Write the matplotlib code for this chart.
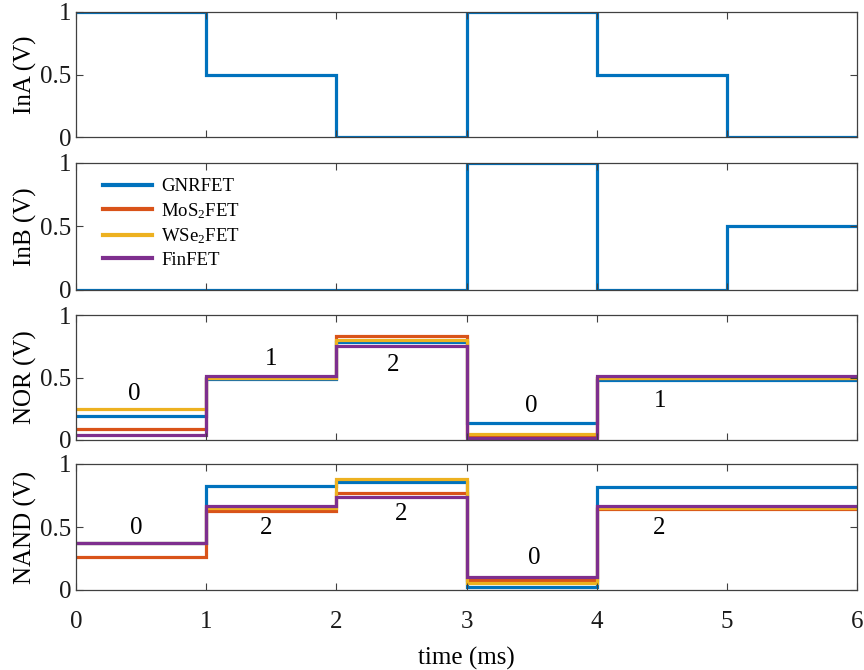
import matplotlib
matplotlib.use("Agg")
import matplotlib.pyplot as plt
import numpy as np

plt.rcParams['font.family'] = ['Liberation Serif', 'DejaVu Serif']
plt.rcParams['mathtext.fontset'] = 'custom'
plt.rcParams['mathtext.rm'] = 'Liberation Serif'
plt.rcParams['mathtext.it'] = 'Liberation Serif:italic'

# time segment edges (ms)
edges = [0, 1, 2, 3, 4, 5, 6]

# inputs (one level per 1 ms segment)
inA = [1, 0.5, 0, 1, 0.5, 0]
inB = [0, 0, 0, 1, 0, 0.5]

series = ["GNRFET", "MoS$_2$FET", "WSe$_2$FET", "FinFET"]
colors = ["#0072BD", "#D95319", "#EDB120", "#7E2F8E"]

nor = {
    "GNRFET":     [0.19, 0.49, 0.785, 0.14, 0.48, 0.48],
    "MoS$_2$FET": [0.086, 0.495, 0.83, 0.03, 0.50, 0.50],
    "WSe$_2$FET": [0.247, 0.50, 0.80, 0.046, 0.495, 0.495],
    "FinFET":     [0.038, 0.516, 0.75, 0.013, 0.516, 0.516],
}
nand = {
    "GNRFET":     [0.373, 0.825, 0.86, 0.026, 0.82, 0.82],
    "MoS$_2$FET": [0.262, 0.63, 0.77, 0.079, 0.64, 0.64],
    "WSe$_2$FET": [0.373, 0.65, 0.88, 0.058, 0.65, 0.65],
    "FinFET":     [0.373, 0.664, 0.74, 0.105, 0.67, 0.67],
}

nor_labels = ["0", "1", "2", "0", "1"]
nor_lx = [0.45, 1.50, 2.44, 3.50, 4.49]
nor_ly = [0.37, 0.645, 0.60, 0.27, 0.31]

nand_labels = ["0", "2", "2", "0", "2"]
nand_lx = [0.46, 1.46, 2.50, 3.52, 4.48]
nand_ly = [0.49, 0.49, 0.60, 0.25, 0.49]

W, H = 864, 670
fig = plt.figure(figsize=(W / 100, H / 100), dpi=100)

left = 76 / W
width = (857 - 76) / W
panels = [(12, 137), (163, 290), (315, 440), (464, 590)]
axes = []
for top, bot in panels:
    ax = fig.add_axes([left, 1 - bot / H, width, (bot - top) / H])
    axes.append(ax)

lw = 2.3
fs = 18
axcol = "#404040"

for ax in axes:
    ax.set_xlim(0, 6)
    ax.set_ylim(0, 1)
    ax.set_yticks([0, 0.5, 1])
    ax.set_yticklabels(["0", "0.5", "1"])
    ax.set_xticks(range(7))
    ax.tick_params(direction="in", top=True, right=True, labelsize=fs,
                   length=5, width=0.8, colors=axcol, labelcolor="#1a1a1a")
    for s in ax.spines.values():
        s.set_color(axcol)
        s.set_linewidth(0.9)
for ax in axes[:-1]:
    ax.tick_params(labelbottom=False)

# InA
axes[0].stairs(inA, edges, baseline=None, color=colors[0], lw=lw)
axes[0].set_ylabel("InA (V)", fontsize=fs, labelpad=2)

# InB with legend
for name, c in zip(series, colors):
    axes[1].plot([], [], color=c, lw=3, label=name)
axes[1].stairs(inB, edges, baseline=None, color=colors[0], lw=lw)
axes[1].set_ylabel("InB (V)", fontsize=fs, labelpad=2)
axes[1].legend(loc="upper left", bbox_to_anchor=(0.02, 0.97), frameon=False,
               fontsize=13.5, handlelength=2.6, handletextpad=0.5,
               labelspacing=0.3, borderaxespad=0.2)

# NOR
for name, c in zip(series, colors):
    axes[2].stairs(nor[name], edges, baseline=None, color=c, lw=lw)
for t, x, y in zip(nor_labels, nor_lx, nor_ly):
    axes[2].text(x, y, t, fontsize=fs, ha="center", va="center")
axes[2].set_ylabel("NOR (V)", fontsize=fs, labelpad=2)

# NAND
for name, c in zip(series, colors):
    axes[3].stairs(nand[name], edges, baseline=None, color=c, lw=lw)
for t, x, y in zip(nand_labels, nand_lx, nand_ly):
    axes[3].text(x, y, t, fontsize=fs, ha="center", va="center")
axes[3].set_ylabel("NAND (V)", fontsize=fs, labelpad=2)
axes[3].set_xlabel("time (ms)", fontsize=fs, labelpad=10)
axes[3].tick_params(axis="x", pad=15)

fig.savefig("out.png", dpi=100)
